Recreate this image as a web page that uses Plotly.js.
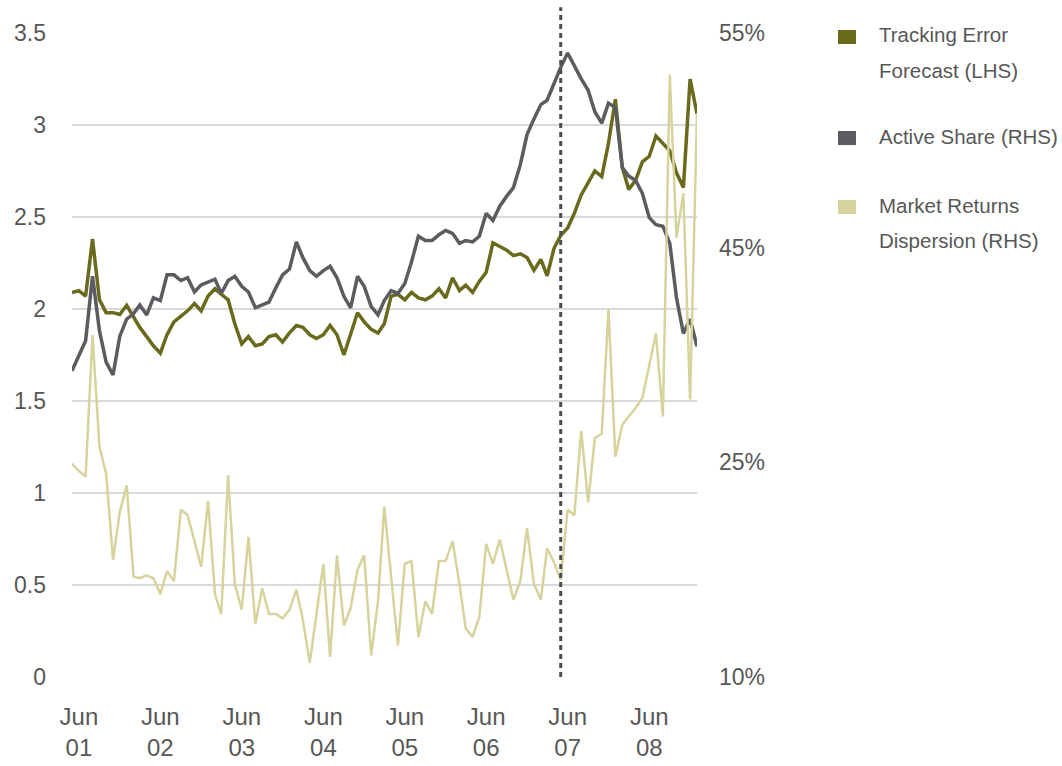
<!DOCTYPE html>
<html>
<head>
<meta charset="utf-8">
<script src="https://cdn.plot.ly/plotly-3.0.1.min.js"></script>
<style>
  html, body { margin: 0; padding: 0; background: #ffffff; }
  #chart { width: 1062px; height: 766px; }
</style>
</head>
<body>
<div id="chart"></div>
<script>
// Monthly observations, May 2001 through January 2009
const firstMonth = { year: 2001, month: 5 };
const monthCount = 93;

// Tracking error forecast (left-hand scale)
const trackingError = [
  2.09, 2.10, 2.07, 2.38, 2.05, 1.98, 1.98, 1.97, 2.02, 1.96,
  1.90, 1.85, 1.80, 1.76, 1.86, 1.93, 1.96, 1.99, 2.03, 1.99,
  2.07, 2.11, 2.08, 2.05, 1.92, 1.81, 1.85, 1.80, 1.81, 1.85,
  1.86, 1.82, 1.87, 1.91, 1.90, 1.86, 1.84, 1.86, 1.91, 1.86,
  1.75, 1.86, 1.98, 1.93, 1.89, 1.87, 1.92, 2.07, 2.08, 2.05,
  2.09, 2.06, 2.05, 2.07, 2.11, 2.06, 2.17, 2.10, 2.13, 2.09,
  2.15, 2.20, 2.36, 2.34, 2.32, 2.29, 2.30, 2.28, 2.21, 2.27,
  2.18, 2.33, 2.40, 2.44, 2.52, 2.62, 2.69, 2.75, 2.72, 2.90,
  3.14, 2.77, 2.65, 2.70, 2.80, 2.83, 2.94, 2.90, 2.86, 2.74,
  2.66, 3.25, 3.06
];

// Active share, % (right-hand scale)
const activeShare = [
  31.4, 32.5, 33.5, 38.0, 34.2, 32.0, 31.1, 33.8, 35.0, 35.4,
  36.0, 35.3, 36.5, 36.3, 38.1, 38.1, 37.7, 37.9, 36.9, 37.4,
  37.6, 37.8, 36.8, 37.7, 38.0, 37.3, 36.9, 35.8, 36.0, 36.2,
  37.2, 38.1, 38.5, 40.4, 39.3, 38.4, 38.0, 38.4, 38.7, 37.9,
  36.6, 35.8, 38.0, 37.3, 35.9, 35.3, 36.3, 37.0, 36.8, 37.5,
  39.0, 40.8, 40.5, 40.5, 40.9, 41.2, 41.0, 40.3, 40.5, 40.4,
  40.8, 42.4, 41.9, 42.9, 43.6, 44.2, 45.8, 47.9, 49.0, 50.0,
  50.3, 51.5, 52.6, 53.6, 52.7, 51.8, 51.0, 49.5, 48.7, 50.1,
  49.8, 45.6, 45.0, 44.7, 43.8, 42.1, 41.6, 41.5, 40.3, 36.5,
  34.0, 35.0, 33.1
];

// Market returns dispersion, % (right-hand scale)
const dispersion = [
  24.9, 24.4, 24.0, 33.9, 26.1, 24.2, 18.2, 21.5, 23.4, 17.0,
  16.9, 17.1, 16.9, 15.8, 17.4, 16.7, 21.7, 21.3, 19.5, 17.7,
  22.3, 15.8, 14.4, 24.1, 16.5, 14.7, 19.8, 13.7, 16.2, 14.4,
  14.4, 14.1, 14.7, 16.1, 14.0, 11.0, 14.4, 17.9, 11.4, 18.5,
  13.6, 14.8, 17.5, 18.5, 11.5, 15.3, 21.9, 17.0, 12.2, 17.9,
  18.1, 12.8, 15.3, 14.4, 18.1, 18.1, 19.5, 16.5, 13.4, 12.8,
  14.2, 19.3, 17.9, 19.6, 17.5, 15.4, 16.7, 20.4, 16.5, 15.4,
  19.0, 18.0, 16.8, 21.7, 21.3, 27.2, 22.2, 26.7, 27.0, 35.7,
  25.4, 27.6, 28.2, 28.8, 29.5, 31.8, 34.0, 28.2, 52.1, 40.7,
  43.8, 29.4, 49.4
];

// Axis ticks
const xTickDates = ['2001-06-01', '2002-06-01', '2003-06-01', '2004-06-01',
                    '2005-06-01', '2006-06-01', '2007-06-01', '2008-06-01'];
const xTickLabels = ['Jun<br>01', 'Jun<br>02', 'Jun<br>03', 'Jun<br>04',
                     'Jun<br>05', 'Jun<br>06', 'Jun<br>07', 'Jun<br>08'];
const rightTickValues = [10, 25, 40, 55];
const rightTickLabels = ['10%', '25%', '45%', '55%'];

// Marker for the regime change
const eventDate = '2007-05-01';

// Series names
const seriesNames = {
  te: 'Tracking Error Forecast (LHS)',
  as: 'Active Share (RHS)',
  mrd: 'Market Returns Dispersion (RHS)'
};

const colors = {
  te: '#6a6a1d',
  as: '#5b5b60',
  mrd: '#d6d39d',
  grid: '#dadada',
  text: '#575757',
  marker: '#4e4e4e'
};

const months = [];
for (let k = 0; k < monthCount; k++) {
  const d = new Date(Date.UTC(firstMonth.year, firstMonth.month - 1 + k, 1));
  months.push(d.toISOString().slice(0, 10));
}

const traces = [
  {
    x: months, y: activeShare, yaxis: 'y2', name: seriesNames.as,
    type: 'scatter', mode: 'lines',
    line: { color: colors.as, width: 3.5 }
  },
  {
    x: months, y: trackingError, yaxis: 'y', name: seriesNames.te,
    type: 'scatter', mode: 'lines',
    line: { color: colors.te, width: 3.5 }
  },
  {
    x: months, y: dispersion, yaxis: 'y2', name: seriesNames.mrd,
    type: 'scatter', mode: 'lines',
    line: { color: colors.mrd, width: 2.5 }
  }
];

// Legend block on the right: swatch + wrapped label lines
const legendItems = [
  { color: colors.te, lines: ['Tracking Error', 'Forecast (LHS)'], top: 1.0047 },
  { color: colors.as, lines: ['Active Share (RHS)'], top: 0.8478 },
  { color: colors.mrd, lines: ['Market Returns', 'Dispersion (RHS)'], top: 0.7407 }
];
const swatchX0 = 1.2256, swatchX1 = 1.2544, swatchH = 0.0218;
const labelX = 1.2880, firstLineOffset = 0.0078, lineStep = 0.0544;

const shapes = [
  {
    type: 'line', xref: 'x', yref: 'paper',
    x0: eventDate, x1: eventDate, y0: 0, y1: 1.04,
    line: { color: colors.marker, width: 3, dash: '5px,4px' },
    layer: 'above'
  }
];
const annotations = [];
legendItems.forEach(item => {
  shapes.push({
    type: 'rect', xref: 'paper', yref: 'paper',
    x0: swatchX0, x1: swatchX1, y0: item.top - swatchH, y1: item.top,
    fillcolor: item.color, line: { width: 0 }
  });
  item.lines.forEach((txt, j) => {
    annotations.push({
      xref: 'paper', yref: 'paper',
      x: labelX, y: item.top - firstLineOffset - j * lineStep,
      xanchor: 'left', yanchor: 'middle',
      text: txt, showarrow: false,
      font: { size: 20.5, color: colors.text }
    });
  });
});

const layout = {
  width: 1062,
  height: 766,
  margin: { l: 72, r: 365, t: 33, b: 89, pad: 0 },
  paper_bgcolor: '#ffffff',
  plot_bgcolor: '#ffffff',
  showlegend: false,
  font: { family: '"Liberation Sans", Arial, sans-serif', size: 23, color: colors.text },
  xaxis: {
    type: 'date',
    range: [months[0], months[months.length - 1]],
    tickmode: 'array',
    tickvals: xTickDates,
    ticktext: xTickLabels,
    showgrid: false, zeroline: false, showline: false,
    ticks: '',
    ticklabelstandoff: 23,
    tickfont: { size: 24, color: colors.text }
  },
  yaxis: {
    range: [0, 3.5],
    tick0: 0, dtick: 0.5,
    showgrid: true, gridcolor: colors.grid, gridwidth: 2,
    zeroline: false, showline: false,
    ticks: '',
    ticklabelstandoff: 25,
    tickfont: { size: 23, color: colors.text }
  },
  yaxis2: {
    overlaying: 'y', side: 'right',
    range: [10, 55],
    tickmode: 'array',
    tickvals: rightTickValues,
    ticktext: rightTickLabels,
    showgrid: false, zeroline: false, showline: false,
    ticks: '',
    ticklabelstandoff: 21,
    tickfont: { size: 23, color: colors.text }
  },
  shapes: shapes,
  annotations: annotations
};

Plotly.newPlot('chart', traces, layout, { displayModeBar: false, staticPlot: true });
</script>
</body>
</html>
